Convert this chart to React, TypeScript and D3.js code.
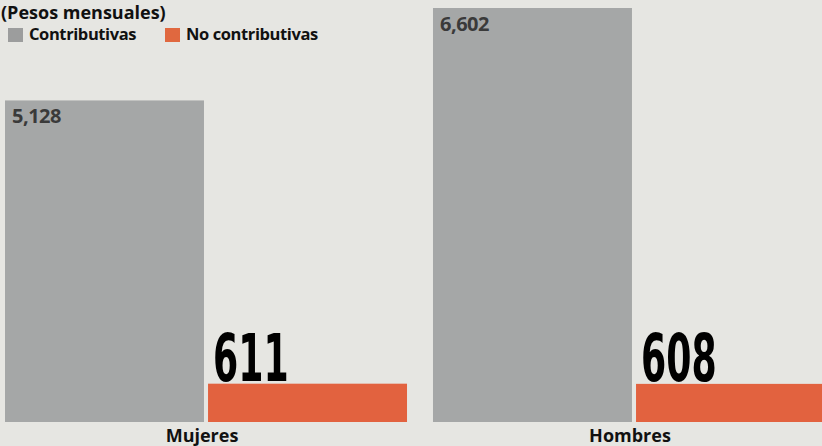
import React from 'react';
import * as d3 from 'd3';

const groups = ['Mujeres', 'Hombres'];
const seriesNames = ['Contributivas', 'No contributivas'];
const contributivas = [5128, 6602];
const noContributivas = [611, 608];
const colors = ['#a5a7a7', '#e2623f'];
const legendColors = ['#9c9d9d', '#e0683f'];

const W = 822;
const H = 446;

export default function App() {
  const baseline = 422;
  const y = d3.scaleLinear().domain([0, 6602]).range([baseline, 8]);
  const x0 = d3.scaleBand().domain(groups).range([5, 835]).paddingInner(0.0607);
  const x1 = d3.scaleBand().domain(seriesNames).range([0, x0.bandwidth()]).paddingInner(0.02);
  const fmt = d3.format(',');

  const rows = groups.map((g, i) => ({ g, vals: [contributivas[i], noContributivas[i]] }));

  return (
    <div style={{ position: 'fixed', left: 0, top: 0, width: W, height: H, background: '#e6e6e2' }}>
      <svg width={W} height={H} style={{ display: 'block', fontFamily: '"Open Sans", "DejaVu Sans", sans-serif' }}>
        <rect width={W} height={H} fill="#e6e6e2" />
        <text x={1} y={19} fontSize={18} fontWeight={700} fill="#111">(Pesos mensuales)</text>

        {seriesNames.map((s, i) => {
          const lx = i === 0 ? 8 : 165;
          return (
            <g key={s} transform={`translate(${lx},28)`}>
              <rect width={15} height={14} fill={legendColors[i]} />
              <text x={21} y={12} fontSize={16.5} fontWeight={700} fill="#111" letterSpacing={-0.4}>{s}</text>
            </g>
          );
        })}

        {rows.map((r) => (
          <g key={r.g} transform={`translate(${x0(r.g)},0)`}>
            {r.vals.map((v, j) => {
              const bx = x1(seriesNames[j]) || 0;
              return (
                <rect key={j} x={bx} y={y(v)} width={x1.bandwidth()} height={baseline - y(v)} fill={colors[j]} />
              );
            })}
            <text
              x={(x1(seriesNames[0]) || 0) + 7}
              y={y(r.vals[0]) + 23}
              fontSize={20}
              fontWeight={700}
              fill="#3a3a3a"
              letterSpacing={-0.5}
            >
              {fmt(r.vals[0])}
            </text>
            <text
              transform={`translate(${(x1(seriesNames[1]) || 0) + 5},${y(r.vals[1]) - 3}) scale(0.62,1)`}
              fontFamily='"DejaVu Sans Condensed", "DejaVu Sans", sans-serif'
              fontSize={65}
              fontWeight={700}
              fill="#000"
            >
              {r.vals[1]}
            </text>
            <text x={x0.bandwidth() / 2 - 4} y={442} textAnchor="middle" fontSize={18} fontWeight={700} fill="#111">
              {r.g}
            </text>
          </g>
        ))}
      </svg>
    </div>
  );
}
